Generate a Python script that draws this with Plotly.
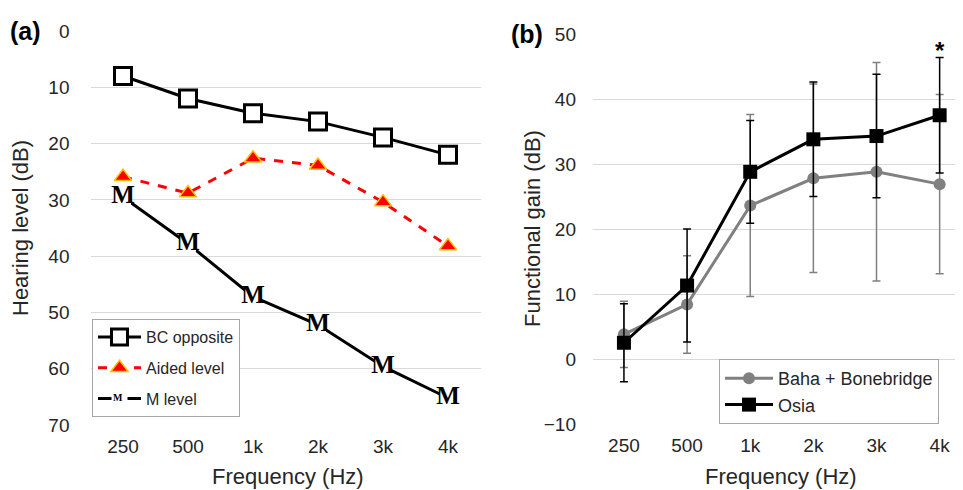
import plotly.graph_objects as go

# ---------------- data ----------------
freq_labels = ["250", "500", "1k", "2k", "3k", "4k"]

# panel (a): hearing level (dB)
bc_opposite = [8.0, 12.0, 14.6, 16.1, 18.9, 22.0]
aided_level = [25.9, 28.8, 22.6, 23.9, 30.4, 38.2]
m_level = [29.5, 37.8, 47.2, 52.2, 59.6, 65.2]

# panel (b): functional gain (dB)
baha_mean = [3.8, 8.4, 23.6, 27.8, 28.8, 26.9]
baha_sd = [5.1, 7.5, 14.0, 14.5, 16.8, 13.8]
osia_mean = [2.5, 11.3, 28.8, 33.8, 34.3, 37.5]
osia_sd = [6.0, 8.7, 7.9, 8.8, 9.5, 8.9]

FONT = "Liberation Sans, Arial, sans-serif"
SERIF = "Liberation Serif, Times New Roman, serif"
TXT = "#262626"
GRID = "#d9d9d9"

fig = go.Figure()

# ---------------- panel (a) ----------------
fig.add_trace(go.Scatter(
    x=freq_labels, y=bc_opposite, name="BC opposite", mode="lines+markers",
    line=dict(color="black", width=3),
    marker=dict(symbol="square", size=17, color="white", line=dict(color="black", width=3)),
    xaxis="x", yaxis="y", legend="legend", legendgroup="a1"))
fig.add_trace(go.Scatter(
    x=freq_labels, y=aided_level, name="Aided level", mode="lines+markers",
    line=dict(color="#ff0000", width=3, dash="dash"),
    marker=dict(symbol="triangle-up", size=15, color="#ff0000", line=dict(color="#ffc000", width=1.5)),
    xaxis="x", yaxis="y", legend="legend", legendgroup="a2"))
fig.add_trace(go.Scatter(
    x=freq_labels, y=m_level, name="M level", mode="lines+markers",
    line=dict(color="black", width=3),
    marker=dict(symbol="square", size=16, color="white", line=dict(width=0)),
    xaxis="x", yaxis="y", legend="legend", legendgroup="a3"))
fig.add_trace(go.Scatter(
    x=freq_labels, y=m_level, mode="text", text=["M"] * len(m_level),
    textposition="middle center",
    textfont=dict(family=SERIF, size=25, color="black", weight="bold"),
    showlegend=False, hoverinfo="skip", xaxis="x", yaxis="y"))

# ---------------- panel (b) ----------------
fig.add_trace(go.Scatter(
    x=freq_labels, y=baha_mean, name="Baha + Bonebridge", mode="lines+markers",
    line=dict(color="#808080", width=3),
    marker=dict(symbol="circle", size=12, color="#808080"),
    error_y=dict(type="data", array=baha_sd, visible=True, color="#808080", thickness=1.5, width=4),
    xaxis="x2", yaxis="y2", legend="legend2"))
fig.add_trace(go.Scatter(
    x=freq_labels, y=osia_mean, name="Osia", mode="lines+markers",
    line=dict(color="black", width=3),
    marker=dict(symbol="square", size=14, color="black"),
    error_y=dict(type="data", array=osia_sd, visible=True, color="black", thickness=1.5, width=4),
    xaxis="x2", yaxis="y2", legend="legend2"))

W, H = 963, 490
OFF = 8  # page body margin of the browser


def px(x):
    return (x - OFF) / W


def py(y):
    return 1 - (y - OFF) / H


tickf = dict(family=FONT, size=19, color=TXT)

xcommon = dict(showline=False, zeroline=False, ticks="", showgrid=False, automargin=False,
               type="category", tickfont=tickf, ticklabelstandoff=8)
ycommon = dict(showline=False, zeroline=False, ticks="", showgrid=True, gridcolor=GRID,
               gridwidth=1, automargin=False, tickfont=tickf, dtick=10)


def label(text, x, y, size, angle=0, family=FONT, color=TXT, xref="paper", yref="paper"):
    return dict(text=text, x=x, y=y, xref=xref, yref=yref, xanchor="center", yanchor="middle",
                textangle=angle, showarrow=False, font=dict(family=family, size=size, color=color))


fig.update_layout(
    width=W, height=H, margin=dict(l=0, r=0, t=0, b=0, autoexpand=False),
    paper_bgcolor="white", plot_bgcolor="white",
    font=dict(family=FONT, color=TXT),
    xaxis=dict(domain=[px(90.5), px(480.5)], anchor="y", range=[-0.5, 5.5], **xcommon),
    yaxis=dict(domain=[py(425), py(31)], anchor="x", range=[70, 0], ticklabelstandoff=20, **ycommon),
    xaxis2=dict(domain=[px(593), px(963)], anchor="y2", range=[-0.49, 5.37], **xcommon),
    yaxis2=dict(domain=[py(424), py(34)], anchor="x2", range=[-10, 50], ticklabelstandoff=16, **ycommon),
    legend=dict(x=px(92), y=py(319), xanchor="left", yanchor="top",
                bgcolor="white", bordercolor="#a6a6a6", borderwidth=1,
                font=dict(family=FONT, size=16, color=TXT), itemwidth=43,
                tracegroupgap=7, traceorder="grouped"),
    legend2=dict(x=px(719), y=py(359), xanchor="left", yanchor="top",
                 bgcolor="white", bordercolor="#a6a6a6", borderwidth=1,
                 font=dict(family=FONT, size=18, color=TXT), itemwidth=48,
                 traceorder="normal"),
    annotations=[
        label("Frequency (Hz)", px(288), py(476), 22),
        label("Frequency (Hz)", px(781), py(476), 22),
        label("Hearing level (dB)", px(20), py(228), 22, angle=-90),
        label("Functional gain (dB)", px(532), py(229), 22, angle=-90),
        label("<b>(a)</b>", px(25), py(31), 25, color="black"),
        label("<b>(b)</b>", px(527), py(34), 25, color="black"),
        label("<b>*</b>", "4k", 47.5, 24, color="black", xref="x2", yref="y2"),
        label("<b>M</b>", px(118), py(397), 10, family=SERIF, color="black"),
    ],
)

fig.write_html("out.html")
